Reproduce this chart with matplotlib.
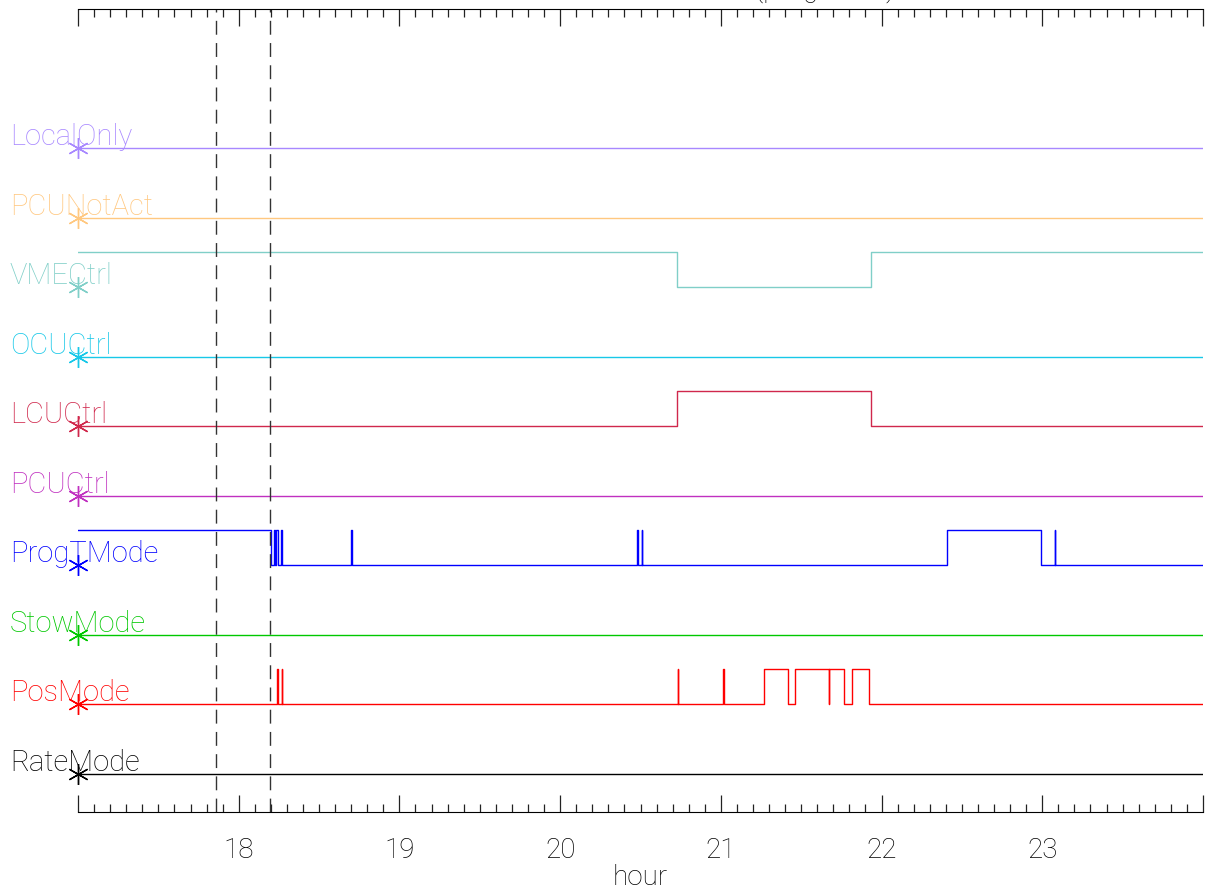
import matplotlib
matplotlib.use("Agg")
import matplotlib.pyplot as plt
from matplotlib.ticker import MultipleLocator, FixedLocator, FixedFormatter

plt.rcParams["font.family"] = ["Roboto", "DejaVu Sans"]
plt.rcParams["font.weight"] = "light"
plt.rcParams["axes.labelweight"] = "light"

# ---------------------------------------------------------------- data
# status rows, bottom (0) to top (9)
NAMES = ["RateMode", "PosMode", "StowMode", "ProgTMode", "PCUCtrl",
         "LCUCtrl", "OCUCtrl", "VMECtrl", "PCUNotAct", "LocalOnly"]
COLORS = ["#000000", "#ff0000", "#00c800", "#0000ff", "#c030c0",
          "#d0284c", "#18c8e8", "#80cfc8", "#ffc880", "#a888ff"]

# transition times (hour) and state after each transition (0 low, 1 high)
T_FLAT = [17.0, 24.0]
S_FLAT = [0, 0]

VME_T = [17.0, 20.727, 21.935, 24.0]
VME_S = [1, 0, 1, 1]

LCU_T = [17.0, 20.727, 21.935, 24.0]
LCU_S = [0, 1, 0, 0]

PROG_T = [17.0, 18.199, 18.218, 18.226, 18.234, 18.242, 18.262, 18.270,
          18.700, 18.704, 20.479, 20.482, 20.509, 20.512, 22.405, 22.991,
          23.077, 23.080, 24.0]
PROG_S = [1, 0, 1, 0, 1, 0, 1, 0, 1, 0, 1, 0, 1, 0, 1, 0, 1, 0, 0]

POS_T = [17.0, 18.239, 18.242, 18.267, 18.270, 20.731, 20.734, 21.015,
         21.018, 21.271, 21.416, 21.460, 21.670, 21.673, 21.767, 21.814,
         21.924, 24.0]
POS_S = [0, 1, 0, 1, 0, 1, 0, 1, 0, 1, 0, 1, 0, 1, 0, 1, 0, 0]

STEPS = {
    "RateMode": (T_FLAT, S_FLAT),
    "PosMode": (POS_T, POS_S),
    "StowMode": (T_FLAT, S_FLAT),
    "ProgTMode": (PROG_T, PROG_S),
    "PCUCtrl": (T_FLAT, S_FLAT),
    "LCUCtrl": (LCU_T, LCU_S),
    "OCUCtrl": (T_FLAT, S_FLAT),
    "VMECtrl": (VME_T, VME_S),
    "PCUNotAct": (T_FLAT, S_FLAT),
    "LocalOnly": (T_FLAT, S_FLAT),
}

MARKS = [17.859, 18.195]          # dashed vertical markers (hour)
HOUR_TICKS = [17, 18, 19, 20, 21, 22, 23, 24]
HOUR_LABELS = ["", "18", "19", "20", "21", "22", "23", ""]

# ---------------------------------------------------------------- plot
W, H = 1206, 892
fig = plt.figure(figsize=(W / 100, H / 100), dpi=100)
ax = fig.add_axes([78 / W, 1 - 812 / H, (1203 - 78) / W, (812 - 9) / H])

for i, name in enumerate(NAMES):
    t, s = STEPS[name]
    y = [i + 0.5 * v for v in s]
    ax.plot(t, y, drawstyle="steps-post", color=COLORS[i], lw=1.0)
    ax.plot([17.0], [i], marker=(6, 2, 0), ms=15, mew=1.0,
            color=COLORS[i], clip_on=False)
    ax.annotate(name, xy=(17.0, i), xycoords="data",
                xytext=(-68, 3), textcoords="offset pixels",
                ha="left", va="baseline", fontsize=21,
                color=COLORS[i], annotation_clip=False)

for m in MARKS:
    ax.axvline(m, color="#333333", lw=1.0, ls=(0, (10, 6)))

ax.set_xlim(17.0, 24.0)
ax.set_ylim(-0.55, 11.0)
ax.set_yticks([])
ax.spines["left"].set_visible(False)
ax.spines["right"].set_visible(False)

ax.xaxis.set_major_locator(FixedLocator(HOUR_TICKS))
ax.xaxis.set_major_formatter(FixedFormatter(HOUR_LABELS))
ax.xaxis.set_minor_locator(MultipleLocator(0.1))
ax.tick_params(axis="x", which="both", direction="in", top=True,
               bottom=True, labelsize=20, width=0.9, color="#222222")
ax.tick_params(axis="x", which="major", length=12.5, pad=18)
ax.tick_params(axis="x", which="minor", length=6)
ax.set_xlabel("hour", fontsize=20, labelpad=0)

# title sits above the page edge, only its descenders show
fig.text(825 / W, 1 + 3 / H, "(progTrack)", ha="center", va="baseline",
         fontsize=20)

fig.savefig("out.png", dpi=100)
